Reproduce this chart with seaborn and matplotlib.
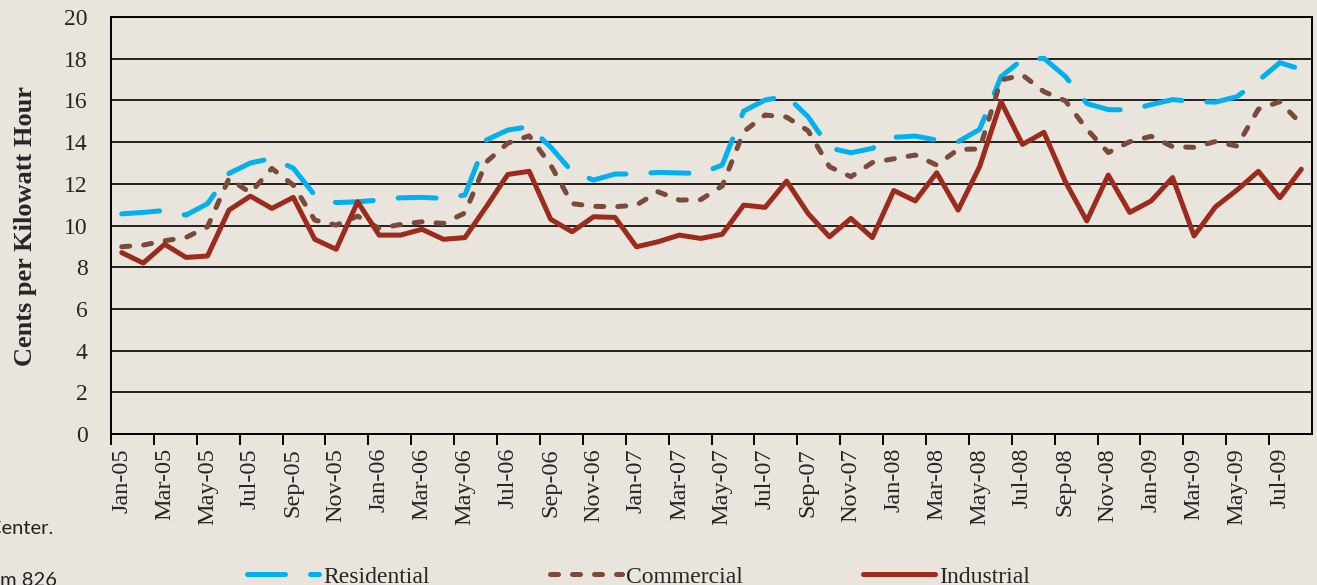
import numpy as np
import pandas as pd
import matplotlib.pyplot as plt
from matplotlib.lines import Line2D
import seaborn as sns

# month labels, Jan-05 .. Aug-09
months = pd.date_range("2005-01-01", periods=56, freq="MS").strftime("%b-%y").tolist()

residential = [10.56, 10.63, 10.72, 10.50, 11.05, 12.50, 13.00, 13.22, 12.75, 11.45,
               11.10, 11.14, 11.22, 11.33, 11.35, 11.30, 11.46, 14.10, 14.58, 14.74,
               13.76, 12.58, 12.18, 12.47, 12.47, 12.55, 12.52, 12.50, 12.90, 15.49,
               16.02, 16.21, 15.22, 13.72, 13.49, 13.70, 14.23, 14.29, 14.10, 14.02,
               14.61, 17.14, 17.97, 18.02, 17.15, 15.85, 15.56, 15.54, 15.80, 16.04,
               15.94, 15.92, 16.18, 16.95, 17.81, 17.49]
commercial = [8.98, 9.06, 9.27, 9.43, 9.94, 12.26, 11.57, 12.74, 11.94, 10.26,
              10.02, 10.45, 9.86, 10.05, 10.18, 10.10, 10.60, 13.05, 13.95, 14.30,
              12.90, 11.05, 10.92, 10.90, 10.98, 11.62, 11.22, 11.24, 11.90, 14.50,
              15.30, 15.20, 14.55, 12.82, 12.34, 13.02, 13.20, 13.38, 12.90, 13.65,
              13.67, 16.98, 17.22, 16.42, 15.98, 14.62, 13.50, 14.02, 14.28, 13.78,
              13.75, 14.03, 13.81, 15.58, 15.94, 14.87]
industrial = [8.70, 8.20, 9.10, 8.47, 8.54, 10.74, 11.41, 10.82, 11.35, 9.34,
              8.86, 11.14, 9.54, 9.54, 9.82, 9.34, 9.42, 10.90, 12.45, 12.60,
              10.30, 9.70, 10.42, 10.39, 8.98, 9.22, 9.54, 9.38, 9.58, 10.98,
              10.87, 12.13, 10.58, 9.46, 10.34, 9.42, 11.68, 11.18, 12.53, 10.74,
              12.82, 15.94, 13.89, 14.47, 12.10, 10.22, 12.42, 10.63, 11.18, 12.30,
              9.50, 10.90, 11.70, 12.60, 11.33, 12.70]

sectors = ["Residential", "Commercial", "Industrial"]
colors = {"Residential": "#00b0f0", "Commercial": "#7a4b3b", "Industrial": "#9c2b1d"}
dashes = {"Residential": (7.6, 5.0), "Commercial": (1.6, 2.8), "Industrial": ""}

df = pd.DataFrame({"idx": range(len(months)),
                   "Residential": residential,
                   "Commercial": commercial,
                   "Industrial": industrial})
df = df.melt(id_vars="idx", var_name="sector", value_name="cents")

sns.set_style("white")
bg = "#e9e5dd"
plt.rcParams["font.family"] = ["Liberation Serif", "DejaVu Serif"]

fig = plt.figure(figsize=(13.17, 5.85), dpi=100, facecolor=bg)
ax = fig.add_axes([0.0843, 0.2581, 0.9119, 0.7128])
ax.set_facecolor(bg)

lw = 3.6
sns.lineplot(data=df, x="idx", y="cents", hue="sector", style="sector",
             hue_order=sectors, style_order=sectors, palette=colors,
             dashes=dashes, linewidth=lw, legend=False, estimator=None,
             ax=ax, dash_capstyle="round", solid_capstyle="round",
             solid_joinstyle="round", dash_joinstyle="round")

ax.set_xlim(-0.5, len(months) - 0.5)
ax.set_ylim(0, 20)

# grid + frame
ax.set_axisbelow(True)
ax.yaxis.grid(True, color="black", linewidth=1.2)
ax.xaxis.grid(False)
for s in ax.spines.values():
    s.set_visible(True)
    s.set_color("black")
    s.set_linewidth(1.4)

# x ticks: labels at category centres, marks on category boundaries
ax.set_xticks(range(0, len(months), 2))
ax.set_xticklabels(months[::2], rotation=90, fontsize=17.5)
ax.set_xticks(np.arange(-0.5, len(months) - 1, 2), minor=True)
ax.tick_params(axis="x", which="major", length=0, pad=10)
ax.tick_params(axis="x", which="minor", length=8, width=1.4, color="black",
               direction="out", bottom=True)

ax.set_yticks(range(0, 21, 2))
ax.tick_params(axis="y", length=0, pad=17, labelsize=17)

ax.set_xlabel("")
ax.set_ylabel("Cents per Kilowatt Hour", fontsize=19, fontweight="bold")
ax.yaxis.set_label_coords(-0.0615, 0.5)

# legend
handles = []
for s in sectors:
    h = Line2D([], [], color=colors[s], linewidth=lw, dash_capstyle="round",
               solid_capstyle="round")
    if dashes[s]:
        h.set_dashes(dashes[s])
    handles.append(h)
fig.legend(handles, sectors, loc="center", bbox_to_anchor=(0.4848, 0.014),
           ncol=3, frameon=False, fontsize=17, handlelength=3.05,
           handletextpad=0.17, columnspacing=5.1)

# clipped source note at left edge, as in the original
fig.text(53 / 1317, 1 - 528 / 585, "Center.", ha="right", va="center",
         family=["Lato", "DejaVu Sans"], fontsize=14.5, color="#222222")
fig.text(57 / 1317, 1 - 580 / 585, "Form 826", ha="right", va="center",
         family=["Lato", "DejaVu Sans"], fontsize=14.5, color="#222222")

fig.savefig("out.png", dpi=100, facecolor=bg)
